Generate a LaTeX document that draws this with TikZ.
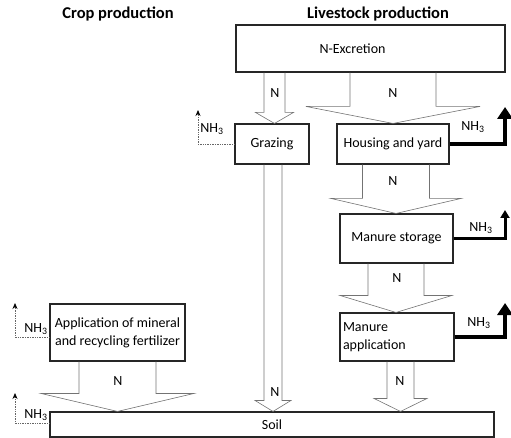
\documentclass[tikz,border=0pt]{standalone}
\usepackage{fontspec}
\setmainfont{Carlito}
\usetikzlibrary{calc,arrows.meta}
\newcommand\blockarr[6]{%
  \coordinate (bT) at (#2,0 |- #3.north);
  \coordinate (bS) at (#2,0 |- #1.south);
  \draw[barr] ($(bS)+(-#4,0)$) -- ($(bT)+(-#4,-#6)$) -- ($(bT)+(-#5,-#6)$) -- (bT)
     -- ($(bT)+(#5,-#6)$) -- ($(bT)+(#4,-#6)$) -- ($(bS)+(#4,0)$);
}
\begin{document}
\begin{tikzpicture}[x=1pt,y=-1pt,
  box/.style={draw=black!85,line width=1.1pt,inner sep=0pt,font=\fontsize{14}{18}\selectfont},
  ttl/.style={font=\fontsize{16.5}{18}\selectfont\bfseries,inner sep=0pt},
  lbl/.style={font=\fontsize{14}{16}\selectfont,inner sep=0pt},
  barr/.style={draw=black!55,line width=0.6pt,line join=miter},
  nhthin/.style={draw=black!60,line width=0.7pt,densely dotted,-{Stealth[length=6pt,width=5pt,black]}},
  nhthick/.style={draw=black,line width=4.5pt,line join=miter,-{Triangle[width=15pt,length=12pt]}},
  nhmid/.style={draw=black,line width=3pt,line join=miter,-{Triangle[width=9pt,length=8pt]}}]
\useasboundingbox (0,0) rectangle (511,438);

% titles
\node[ttl] (tcrop) at (118,14) {Crop production};
\node[ttl] (tlive) at (378,14) {Livestock production};

% boxes
\node[box,minimum width=269pt,minimum height=47pt] (exc) at (370.5,48.5) {\hspace*{-36pt}\raisebox{-3pt}{N-Excretion}};
\node[box,minimum width=74pt,minimum height=40pt] (graz) at (272,144) {Grazing};
\node[box,minimum width=112pt,minimum height=40pt] (house) at (393,144) {Housing and yard};
\node[box,minimum width=113pt,minimum height=49pt] (stor) at (396.5,238.5) {Manure storage};
\node[box,minimum width=114pt,minimum height=48pt,text width=108pt,align=left] (app) at (397,337) {Manure\\application};
\node[box,minimum width=135pt,minimum height=57pt,align=center] (fert) at (117.5,332.5) {Application of mineral\\and recycling fertilizer};
\node[box,minimum width=444pt,minimum height=25pt] (soil) at (272,424.5) {Soil};

% block arrows
\blockarr{exc}{274.5}{graz}{10.5}{19}{11}
\blockarr{exc}{393}{house}{43}{87}{17}
\blockarr{house}{396}{stor}{33.5}{65}{15}
\blockarr{stor}{396}{app}{28}{56}{17}
\blockarr{app}{400.5}{soil}{13.5}{26.5}{13}
\blockarr{graz}{273}{soil}{9}{18}{11}
\blockarr{fert}{117.5}{soil}{38.5}{76.5}{18}

% N labels
\node[lbl] (n1) at (275,93) {N};
\node[lbl] (n2) at (393,93) {N};
\node[lbl] (n3) at (393,181) {N};
\node[lbl] (n4) at (397,278) {N};
\node[lbl] (n5) at (400,381) {N};
\node[lbl] (n6) at (275,392) {N};
\node[lbl] (n7) at (118,381) {N};

% NH3 emissions
\coordinate (g3) at (198,110);
\draw[nhthin] (graz.west) -| (g3);
\node[lbl] (gl) at (212,129) {NH\textsubscript{3}};

\coordinate (f3) at (15,303);
\draw[nhthin] ($(fert.west)+(0,4.5)$) -| (f3);
\node[lbl] (fl) at (36,329) {NH\textsubscript{3}};

\coordinate (s3) at (15,393);
\draw[nhthin] ($(soil.west)+(0,-1.5)$) -| (s3);
\node[lbl] (sl) at (36,415) {NH\textsubscript{3}};

\coordinate (h3) at (505,107);
\draw[nhthick] (house.east) -| (h3);
\node[lbl] (hl) at (473,127) {NH\textsubscript{3}};

\coordinate (st3) at (505,210);
\draw[nhmid] (stor.east) -| (st3);
\node[lbl] (stl) at (481,228) {NH\textsubscript{3}};

\coordinate (a3) at (505,303);
\draw[nhthick] (app.east) -| (a3);
\node[lbl] (al) at (479,323) {NH\textsubscript{3}};
\end{tikzpicture}
\end{document}
